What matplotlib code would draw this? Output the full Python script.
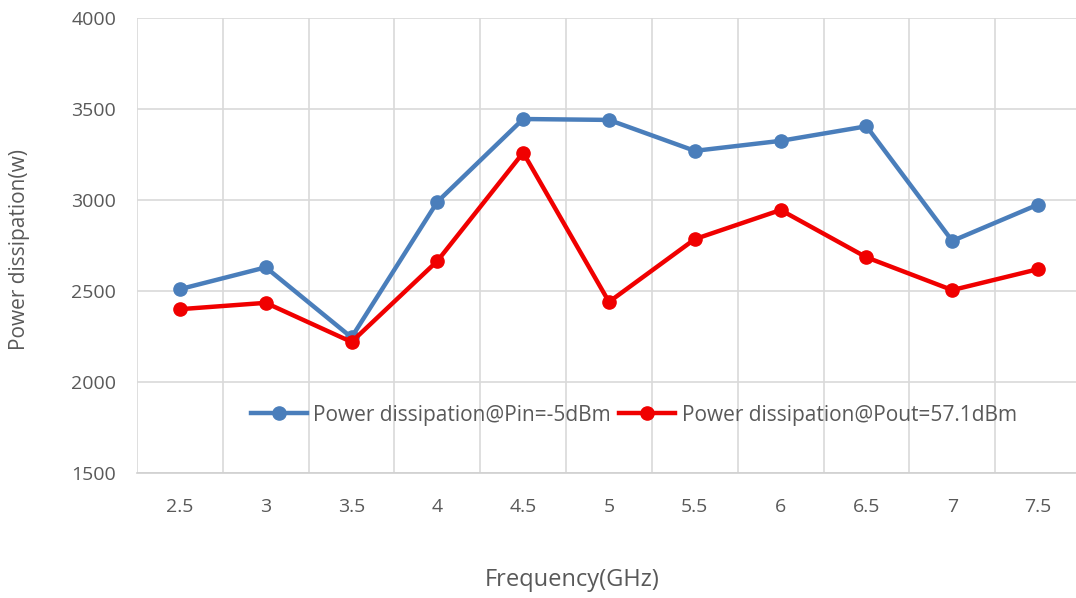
import matplotlib
matplotlib.use("Agg")
import matplotlib.pyplot as plt

# frequency points (GHz) and dissipated power (W) for the two drive conditions
freq = ["2.5", "3", "3.5", "4", "4.5", "5", "5.5", "6", "6.5", "7", "7.5"]
p_pin = [2510, 2630, 2245, 2990, 3445, 3440, 3270, 3325, 3405, 2775, 2975]
p_pout = [2400, 2435, 2220, 2665, 3260, 2440, 2785, 2945, 2685, 2505, 2620]

plt.rcParams["font.family"] = ["Open Sans", "DejaVu Sans"]
text_grey = "#595959"

fig = plt.figure(figsize=(10.76, 5.98), dpi=100)
ax = fig.add_axes([137 / 1076, 125 / 598, 944 / 1076, 455 / 598])

x = range(len(freq))
ax.plot(x, p_pin, color="#4A7EBB", lw=3.2, marker="o", ms=9.5,
        label="Power dissipation@Pin=-5dBm")
ax.plot(x, p_pout, color="#F00000", lw=3.2, marker="o", ms=9.5,
        label="Power dissipation@Pout=57.1dBm")

ax.set_xlim(-0.5, len(freq) - 0.5)
ax.set_ylim(1500, 4000)
ax.set_yticks([1500, 2000, 2500, 3000, 3500, 4000])
ax.set_xticks(list(x))
ax.set_xticklabels(freq)

# vertical grid sits between categories, like a category axis
ax.set_xticks([i + 0.5 for i in range(-1, len(freq))], minor=True)
ax.grid(which="minor", axis="x", color="#D9D9D9", lw=1.2)
ax.grid(which="major", axis="y", color="#D9D9D9", lw=1.2)
ax.set_axisbelow(True)

for side in ["top", "right", "left"]:
    ax.spines[side].set_visible(False)
ax.spines["bottom"].set_color("#D0D0D0")
ax.spines["bottom"].set_linewidth(1.2)
ax.tick_params(which="both", length=0, labelsize=14, labelcolor=text_grey)
ax.tick_params(axis="x", pad=18)
ax.tick_params(axis="y", pad=15)

fig.text(20 / 1076, 1 - 249 / 598, "Power dissipation(w)", rotation=90,
         ha="center", va="center", fontsize=15, color=text_grey)
fig.text(572 / 1076, 1 - 580 / 598, "Frequency(GHz)",
         ha="center", va="center", fontsize=17, color=text_grey)

leg = ax.legend(loc="center", bbox_to_anchor=(0.526, 0.127), ncol=2,
                frameon=False, fontsize=15, handlelength=2.7,
                handletextpad=0.3, columnspacing=0.4, borderpad=0)
for t in leg.get_texts():
    t.set_color(text_grey)

fig.savefig("out.png", dpi=100)
